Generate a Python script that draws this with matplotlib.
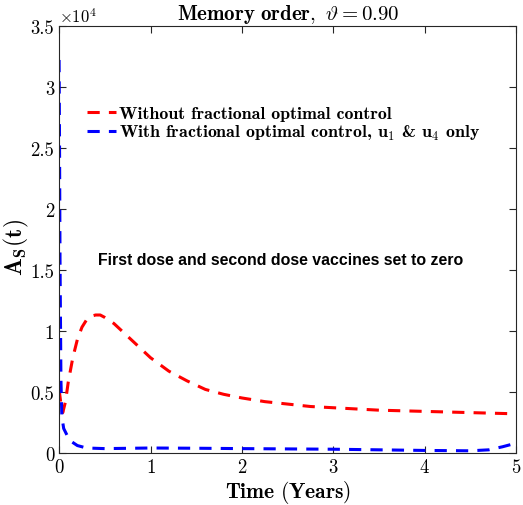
import numpy as np
import matplotlib
matplotlib.use('Agg')
import matplotlib.pyplot as plt
from matplotlib.ticker import FuncFormatter, MultipleLocator

plt.rcParams['font.family'] = 'serif'
plt.rcParams['font.serif'] = ['cmr10']
plt.rcParams['mathtext.fontset'] = 'cm'
plt.rcParams['axes.formatter.use_mathtext'] = True

# ── Data (A_S in individuals) ────────────────────────────────────────────────
t_no_ctrl = [0.00, 0.02, 0.04, 0.07, 0.10, 0.15, 0.20, 0.25, 0.30, 0.35, 0.40,
             0.45, 0.50, 0.60, 0.70, 0.80, 0.90, 1.00, 1.20, 1.40, 1.60, 1.80,
             2.00, 2.25, 2.50, 2.75, 3.00, 3.50, 4.00, 4.50, 5.00]
as_no_ctrl = [5200, 4000, 3300, 4200, 5800, 7800, 9300, 10300, 10900, 11200, 11300,
              11300, 11100, 10600, 9900, 9200, 8500, 7800, 6700, 5900, 5200, 4800,
              4500, 4200, 4000, 3800, 3700, 3500, 3400, 3300, 3200]

t_ctrl = [0.000, 0.005, 0.010, 0.020, 0.030, 0.050, 0.090, 0.140, 0.200, 0.300,
          0.500, 1.000, 1.500, 2.000, 3.000, 4.000, 4.500, 4.700, 4.850, 5.000]
as_ctrl = [32200, 25000, 16000, 6000, 3000, 2000, 1400, 900, 600, 400,
           350, 400, 380, 350, 300, 200, 170, 250, 500, 800]

# ── Plot ─────────────────────────────────────────────────────────────────────
fig = plt.figure(figsize=(5.23, 5.06), dpi=100)
ax = fig.add_axes([0.113, 0.103, 0.874, 0.844])

ax.plot(t_no_ctrl, as_no_ctrl, color='red', lw=2.2, dashes=(4, 3),
        label='Without fractional optimal control')
ax.plot(t_ctrl, as_ctrl, color='blue', lw=2.2, dashes=(4, 3),
        label=r'With fractional optimal control, u$_1$ & u$_4$ only')

ax.set_xlim(0, 5)
ax.set_ylim(0, 35000)
ax.xaxis.set_major_locator(MultipleLocator(1))
ax.yaxis.set_major_locator(MultipleLocator(5000))
ax.yaxis.set_major_formatter(FuncFormatter(lambda v, p: f'{v / 1e4:g}'))
ax.text(0.0, 1.003, r'$\times10^{4}$', transform=ax.transAxes,
        fontsize=12, ha='left', va='bottom')

ax.tick_params(direction='in', top=True, right=True, length=5, width=0.8,
               labelsize=13.5, colors='0.15', labelcolor='black')
for s in ax.spines.values():
    s.set_color('0.15')
    s.set_linewidth(0.8)

ax.set_title(r'$\mathbf{Memory\ order,}\ \vartheta = 0.90$', fontsize=15, pad=5)
ax.set_xlabel(r'$\mathbf{Time\ (Years)}$', fontsize=15.5, labelpad=1.5)
ax.set_ylabel(r'$\mathbf{A_{S}(t)}$', fontsize=17)
ax.yaxis.set_label_coords(-0.062, 0.482)

leg = ax.legend(loc='upper left', bbox_to_anchor=(0.045, 0.83), frameon=False,
                fontsize=12.9, handlelength=1.6, handletextpad=0.2,
                labelspacing=0.1, borderaxespad=0)
for txt in leg.get_texts():
    txt.set_fontweight('bold')
    txt.set_fontfamily('cmb10')

ax.text(0.484, 0.452, 'First dose and second dose vaccines set to zero',
        transform=ax.transAxes, ha='center', va='center', fontsize=11.4,
        fontweight='bold', family='Liberation Sans')

fig.savefig('out.png', dpi=100)
